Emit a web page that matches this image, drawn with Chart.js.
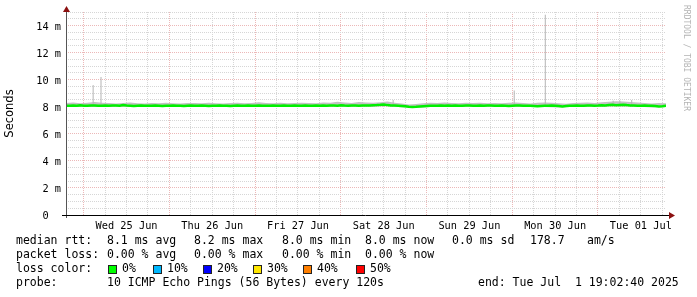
<!DOCTYPE html>
<html>
<head>
<meta charset="utf-8">
<script src="https://cdn.jsdelivr.net/npm/chart.js@4.4.1/dist/chart.umd.min.js"></script>
<style>
  html, body { margin: 0; padding: 0; background: #fff; }
  canvas { display: block; }
</style>
</head>
<body>
<canvas id="rtt" width="697" height="297"></canvas>
<script>
// time axis: hours since start (Tue 24 Jun 19:02:40), 7 days
const firstMidnight = 4 + 57 / 60 + 20 / 3600; // Wed 25 Jun 00:00
const dayLabels = ["Wed 25 Jun", "Thu 26 Jun", "Fri 27 Jun", "Sat 28 Jun", "Sun 29 Jun", "Mon 30 Jun", "Tue 01 Jul"];

// median rtt, one value per hour (ms)
const medianRtt = [
  8.08, 8.07, 8.09, 8.08, 8.10, 8.07, 8.08, 8.10, 8.09, 8.08, 8.07, 8.09,
  8.08, 8.10, 8.09, 8.07, 8.12, 8.09, 8.08, 8.06, 8.08, 8.09, 8.07, 8.08,
  8.07, 8.09, 8.08, 8.06, 8.08, 8.07, 8.09, 8.08, 8.07, 8.06, 8.08, 8.09,
  8.08, 8.07, 8.09, 8.08, 8.06, 8.07, 8.08, 8.09, 8.07, 8.08, 8.06, 8.08,
  8.09, 8.07, 8.08, 8.10, 8.08, 8.07, 8.09, 8.08, 8.07, 8.08, 8.09, 8.07,
  8.08, 8.09, 8.07, 8.08, 8.10, 8.08, 8.07, 8.09, 8.08, 8.07, 8.09, 8.08,
  8.09, 8.08, 8.10, 8.09, 8.08, 8.11, 8.09, 8.08, 8.10, 8.09, 8.08, 8.09,
  8.10, 8.09, 8.11, 8.12, 8.14, 8.17, 8.12, 8.10, 8.09, 8.08, 8.06, 8.04,
  8.00, 7.98, 7.99, 8.01, 8.03, 8.05, 8.07, 8.08, 8.07, 8.09, 8.08, 8.10,
  8.08, 8.09, 8.07, 8.08, 8.10, 8.09, 8.08, 8.07, 8.09, 8.08, 8.10, 8.09,
  8.08, 8.07, 8.09, 8.08, 8.06, 8.08, 8.10, 8.09, 8.08, 8.07, 8.08, 8.06,
  8.03, 8.06, 8.08, 8.07, 8.09, 8.08, 8.06, 8.02, 8.05, 8.07, 8.08, 8.09,
  8.08, 8.07, 8.09, 8.10, 8.08, 8.09, 8.11, 8.10, 8.12, 8.14, 8.11, 8.13,
  8.15, 8.12, 8.10, 8.09, 8.08, 8.07, 8.09, 8.08, 8.07, 8.05, 8.02, 8.04,
  8.07
];

// smoke band (spread of the pings), one value every 2 hours (ms)
const smokeHigh = [
  8.28, 8.32, 8.26, 8.30, 8.35, 8.29, 8.27, 8.24, 8.28, 8.31, 8.26, 8.23,
  8.27, 8.25, 8.29, 8.26, 8.24, 8.28, 8.27, 8.25, 8.30, 8.26, 8.24, 8.27,
  8.29, 8.26, 8.28, 8.33, 8.27, 8.25, 8.29, 8.26, 8.28, 8.30, 8.27, 8.25,
  8.32, 8.29, 8.36, 8.31, 8.28, 8.35, 8.32, 8.30, 8.34, 8.38, 8.30, 8.24,
  8.16, 8.20, 8.26, 8.29, 8.27, 8.32, 8.28, 8.26, 8.30, 8.27, 8.29, 8.26,
  8.28, 8.25, 8.29, 8.31, 8.27, 8.24, 8.30, 8.32, 8.29, 8.26, 8.22, 8.27,
  8.29, 8.31, 8.28, 8.33, 8.36, 8.40, 8.38, 8.35, 8.31, 8.28, 8.24, 8.27,
  8.26
];
const smokeLow = [
  7.98, 7.99, 8.00, 7.98, 8.00, 7.99, 7.98, 8.00, 7.99, 7.98, 8.00, 7.99,
  7.99, 7.98, 8.00, 7.99, 7.98, 8.00, 7.99, 7.98, 8.00, 7.99, 7.98, 8.00,
  7.99, 8.00, 7.98, 7.99, 8.00, 7.98, 7.99, 8.00, 7.99, 7.98, 8.00, 7.99,
  8.00, 7.99, 8.01, 8.00, 7.99, 8.01, 8.02, 8.00, 8.01, 8.03, 7.99, 7.96,
  7.92, 7.92, 7.95, 7.98, 7.99, 8.00, 7.99, 7.98, 8.00, 7.99, 7.98, 8.00,
  7.99, 7.98, 8.00, 7.99, 7.98, 7.99, 8.00, 7.98, 7.97, 7.95, 7.96, 7.99,
  8.00, 7.99, 8.00, 8.01, 8.02, 8.03, 8.02, 8.01, 8.00, 7.98, 7.95, 7.97,
  7.98
];

// single slow pings sticking out of the smoke
const spikeHours = [7.6, 9.8, 91.6, 125.5, 134.2, 153.2, 155.1, 158.4];
const spikeTop = [9.6, 10.2, 8.5, 9.2, 14.8, 8.45, 8.45, 8.5];
const spikeBase = [8.1, 8.1, 8.1, 8.1, 8.1, 8.1, 8.1, 8.1];

// legend figures
const rttStats = ["8.1", "8.2", "8.0", "8.0", "0.0"];
const lossStats = ["0.00", "0.00", "0.00", "0.00"];
const amPerSec = "178.7";
const lossSteps = ["0%", "10%", "20%", "30%", "40%", "50%"];
const lossColors = ["#00ff00", "#00b8ff", "#0000ff", "#ffe600", "#ff7f00", "#ff0000"];

const MONO = '"DejaVu Sans Mono", monospace';
const gridRed = "#ecb8b8";
const gridGrey = "#d6d6d6";

const tickHours = [];
for (let h = firstMidnight; h < 168; h += 6) tickHours.push(h);

const medianPts = medianRtt.map((v, i) => ({ x: i, y: v }));
const highPts = smokeHigh.map((v, i) => ({ x: i * 2, y: v }));
const lowPts = smokeLow.map((v, i) => ({ x: i * 2, y: v }));
const spikePts = [];
spikeHours.forEach((h, i) => {
  spikePts.push({ x: h, y: spikeBase[i] }, { x: h, y: spikeTop[i] }, { x: h, y: null });
});

const decor = {
  id: "decor",
  beforeDraw(chart) {
    const ctx = chart.ctx;
    ctx.save();
    ctx.fillStyle = "#fff";
    ctx.fillRect(0, 0, chart.width, chart.height);
    ctx.restore();
  },
  afterDraw(chart) {
    const { ctx, chartArea: a } = chart;
    ctx.save();
    // axes
    ctx.lineWidth = 1;
    ctx.strokeStyle = "#555";
    ctx.beginPath();
    ctx.moveTo(a.left + 0.5, a.bottom + 3);
    ctx.lineTo(a.left + 0.5, a.top - 3);
    ctx.stroke();
    ctx.strokeStyle = "#000";
    ctx.beginPath();
    ctx.moveTo(a.left - 4, a.bottom + 0.5);
    ctx.lineTo(a.right + 3, a.bottom + 0.5);
    ctx.stroke();
    // arrows
    ctx.fillStyle = "#8b1010";
    ctx.beginPath();
    ctx.moveTo(a.left + 0.5, a.top - 6);
    ctx.lineTo(a.left - 3, a.top);
    ctx.lineTo(a.left + 4, a.top);
    ctx.fill();
    ctx.beginPath();
    ctx.moveTo(a.right + 9, a.bottom + 0.5);
    ctx.lineTo(a.right + 3, a.bottom - 3);
    ctx.lineTo(a.right + 3, a.bottom + 4);
    ctx.fill();

    // watermark
    ctx.save();
    ctx.translate(686, 5);
    ctx.rotate(Math.PI / 2);
    ctx.font = "8px " + MONO;
    ctx.fillStyle = "#b4b4b4";
    ctx.textBaseline = "middle";
    ctx.fillText("RRDTOOL / TOBI OETIKER", 0, 0);
    ctx.restore();

    // legend text
    ctx.font = "11.5px " + MONO;
    ctx.fillStyle = "#000";
    ctx.textBaseline = "middle";
    const put = (s, x, y) => ctx.fillText(s, x, y);
    const colX = [107, 194, 282, 365, 452];
    put("median rtt:", 16, 241);
    put(rttStats[0] + " ms avg", colX[0], 241);
    put(rttStats[1] + " ms max", colX[1], 241);
    put(rttStats[2] + " ms min", colX[2], 241);
    put(rttStats[3] + " ms now", colX[3], 241);
    put(rttStats[4] + " ms sd", colX[4], 241);
    put(amPerSec, 530, 241);
    put("am/s", 587, 241);
    put("packet loss:", 16, 255);
    put(lossStats[0] + " % avg", colX[0], 255);
    put(lossStats[1] + " % max", colX[1], 255);
    put(lossStats[2] + " % min", colX[2], 255);
    put(lossStats[3] + " % now", colX[3], 255);
    put("loss color:", 16, 269);
    const boxX = [108, 153, 203, 253, 303, 356];
    lossSteps.forEach((s, i) => {
      ctx.fillStyle = "#222";
      ctx.fillRect(boxX[i], 265, 9, 9);
      ctx.fillStyle = lossColors[i];
      ctx.fillRect(boxX[i] + 1, 266, 7, 7);
      ctx.fillStyle = "#000";
      put(s, boxX[i] + 14, 269);
    });
    put("probe:", 16, 283);
    put("10 ICMP Echo Pings (56 Bytes) every 120s", 107, 283);
    put("end: Tue Jul  1 19:02:40 2025", 478, 283);
    ctx.restore();
  }
};

new Chart(document.getElementById("rtt"), {
  type: "line",
  data: {
    datasets: [
      { data: medianPts, borderColor: "#00f000", borderWidth: 2.5, pointRadius: 0, fill: false },
      { data: spikePts, borderColor: "#b4b4b4", borderWidth: 1, pointRadius: 0, spanGaps: false, fill: false },
      { data: highPts, borderWidth: 0, borderColor: "rgba(0,0,0,0)", backgroundColor: "#c2c2c2", pointRadius: 0, fill: "+1" },
      { data: lowPts, borderWidth: 0, borderColor: "rgba(0,0,0,0)", pointRadius: 0, fill: false }
    ]
  },
  options: {
    responsive: false,
    animation: false,
    events: [],
    layout: { padding: { left: 0, top: 12, right: 31, bottom: 62 } },
    plugins: { legend: { display: false }, tooltip: { enabled: false } },
    scales: {
      x: {
        type: "linear",
        min: 0,
        max: 168,
        offset: false,
        afterFit: (s) => { s.height = 20; },
        afterBuildTicks: (s) => { s.ticks = tickHours.map((v) => ({ value: v })); },
        grid: {
          drawTicks: false,
          lineWidth: 1,
          color: (c) => (c.index % 4 === 0 ? gridRed : gridGrey)
        },
        border: { display: false, dash: [1, 1] },
        ticks: {
          autoSkip: false,
          maxRotation: 0,
          padding: 5,
          color: "#000",
          font: { family: MONO, size: 10.3 },
          callback: (v, i) => (i % 4 === 2 ? dayLabels[(i - 2) / 4] : "")
        }
      },
      y: {
        min: 0,
        max: 15,
        afterFit: (s) => { s.width = 66; },
        grid: {
          drawTicks: false,
          lineWidth: 1,
          color: (c) => (c.tick && c.tick.value % 2 === 0 ? gridRed : gridGrey)
        },
        border: { display: false, dash: [1, 1] },
        title: {
          display: true,
          text: "Seconds",
          color: "#000",
          font: { family: '"DejaVu Sans", sans-serif', size: 11.5 },
          padding: { top: 3, bottom: 0 }
        },
        ticks: {
          stepSize: 0.5,
          autoSkip: false,
          padding: 5,
          labelOffset: 1.5,
          color: "#000",
          font: { family: MONO, size: 10.3 },
          callback: (v) => (v % 2 === 0 ? (v === 0 ? "0  " : v + " m") : "")
        }
      }
    }
  },
  plugins: [decor]
});
</script>
</body>
</html>
